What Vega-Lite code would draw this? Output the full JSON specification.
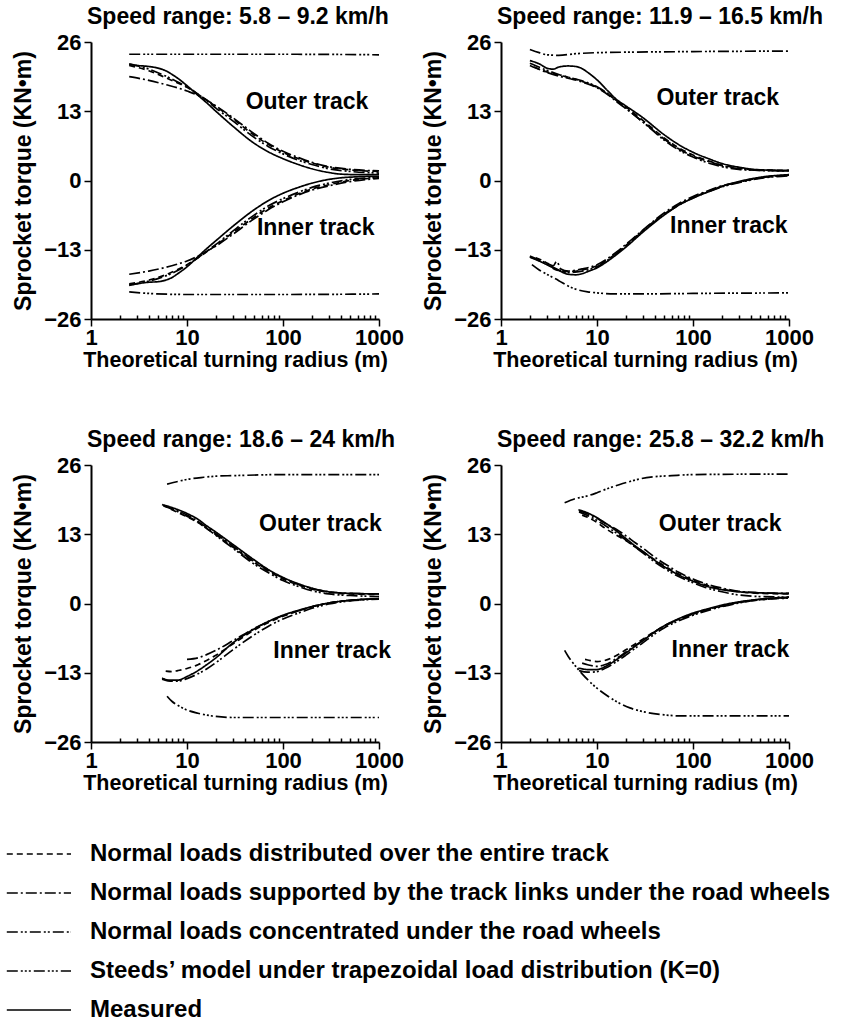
{
"$schema":"https://vega.github.io/schema/vega-lite/v6.json",
"padding":{"left":12,"top":6,"right":2,"bottom":2},
"config":{
 "font":"Liberation Sans",
 "view":{"stroke":null},
 "axis":{"grid":false,"labelFont":"Liberation Sans","titleFont":"Liberation Sans","labelFontWeight":"bold","titleFontWeight":"bold","labelColor":"black","titleColor":"black","domainColor":"black","tickColor":"black","domainWidth":2,"tickWidth":1.5,"labelFlush":false,"labelOverlap":false},
 "axisX":{"labelFontSize":22,"titleFontSize":21.5,"labelPadding":1,"titlePadding":1},
 "axisY":{"labelFontSize":22,"titleFontSize":23,"labelPadding":3,"titlePadding":8},
 "legend":{"orient":"bottom","direction":"vertical","columns":1,"symbolType":"M-8.1,0H-2.75","symbolSize":576,"symbolStrokeWidth":1.7,"symbolStrokeColor":"black","labelFont":"Liberation Sans","labelFontSize":24,"labelFontWeight":"bold","labelColor":"black","labelOffset":-27,"labelLimit":900,"rowPadding":14,"offset":47}
},
"columns":2,
"spacing":{"column":18,"row":58},
"resolve":{"scale":{"strokeDash":"shared"}},
"datasets":{
"labels":[
 {"p":1,"lab":"Outer track","x":178,"y":14.7},{"p":1,"lab":"Inner track","x":219,"y":-8.9},
 {"p":2,"lab":"Outer track","x":181,"y":15.5},{"p":2,"lab":"Inner track","x":236,"y":-8.5},
 {"p":3,"lab":"Outer track","x":245,"y":15},{"p":3,"lab":"Inner track","x":325,"y":-8.9},
 {"p":4,"lab":"Outer track","x":192,"y":15},{"p":4,"lab":"Inner track","x":245,"y":-8.7}
],
"curves":[
{"p":1,"t":"O","m":"E","x":2.5,"y":21.8},{"p":1,"t":"O","m":"E","x":3,"y":21.6},{"p":1,"t":"O","m":"E","x":4,"y":21.4},{"p":1,"t":"O","m":"E","x":5,"y":21.1},{"p":1,"t":"O","m":"E","x":6,"y":20.6},{"p":1,"t":"O","m":"E","x":7,"y":19.9},{"p":1,"t":"O","m":"E","x":8,"y":19.2},{"p":1,"t":"O","m":"E","x":10,"y":17.8},{"p":1,"t":"O","m":"E","x":13,"y":16},{"p":1,"t":"O","m":"E","x":16,"y":14.6},{"p":1,"t":"O","m":"E","x":20,"y":13},{"p":1,"t":"O","m":"E","x":30,"y":10.2},{"p":1,"t":"O","m":"E","x":50,"y":7},{"p":1,"t":"O","m":"E","x":70,"y":5.4},{"p":1,"t":"O","m":"E","x":100,"y":4.1},{"p":1,"t":"O","m":"E","x":150,"y":2.9},{"p":1,"t":"O","m":"E","x":200,"y":2.2},{"p":1,"t":"O","m":"E","x":300,"y":1.5},{"p":1,"t":"O","m":"E","x":400,"y":1.2},{"p":1,"t":"O","m":"E","x":600,"y":1.1},{"p":1,"t":"O","m":"E","x":1000,"y":1.1},
{"p":1,"t":"O","m":"A","x":2.5,"y":21.6},{"p":1,"t":"O","m":"A","x":4,"y":20.6},{"p":1,"t":"O","m":"A","x":6,"y":19.3},{"p":1,"t":"O","m":"A","x":8,"y":18.3},{"p":1,"t":"O","m":"A","x":10,"y":17.5},{"p":1,"t":"O","m":"A","x":13,"y":16.2},{"p":1,"t":"O","m":"A","x":16,"y":15.1},{"p":1,"t":"O","m":"A","x":20,"y":13.9},{"p":1,"t":"O","m":"A","x":30,"y":11.6},{"p":1,"t":"O","m":"A","x":50,"y":8.5},{"p":1,"t":"O","m":"A","x":70,"y":6.8},{"p":1,"t":"O","m":"A","x":100,"y":5.3},{"p":1,"t":"O","m":"A","x":150,"y":4},{"p":1,"t":"O","m":"A","x":200,"y":3.3},{"p":1,"t":"O","m":"A","x":300,"y":2.5},{"p":1,"t":"O","m":"A","x":500,"y":2},{"p":1,"t":"O","m":"A","x":1000,"y":1.7},
{"p":1,"t":"O","m":"B","x":2.5,"y":19.5},{"p":1,"t":"O","m":"B","x":4,"y":18.8},{"p":1,"t":"O","m":"B","x":6,"y":18},{"p":1,"t":"O","m":"B","x":8,"y":17.4},{"p":1,"t":"O","m":"B","x":10,"y":16.8},{"p":1,"t":"O","m":"B","x":13,"y":16},{"p":1,"t":"O","m":"B","x":16,"y":15.1},{"p":1,"t":"O","m":"B","x":20,"y":14},{"p":1,"t":"O","m":"B","x":30,"y":11.8},{"p":1,"t":"O","m":"B","x":50,"y":8.8},{"p":1,"t":"O","m":"B","x":70,"y":7},{"p":1,"t":"O","m":"B","x":100,"y":5.5},{"p":1,"t":"O","m":"B","x":150,"y":4.2},{"p":1,"t":"O","m":"B","x":200,"y":3.4},{"p":1,"t":"O","m":"B","x":300,"y":2.6},{"p":1,"t":"O","m":"B","x":500,"y":2.1},{"p":1,"t":"O","m":"B","x":1000,"y":1.8},
{"p":1,"t":"O","m":"C","x":2.5,"y":21.9},{"p":1,"t":"O","m":"C","x":4,"y":20.9},{"p":1,"t":"O","m":"C","x":6,"y":19.6},{"p":1,"t":"O","m":"C","x":8,"y":18.5},{"p":1,"t":"O","m":"C","x":10,"y":17.6},{"p":1,"t":"O","m":"C","x":13,"y":16.2},{"p":1,"t":"O","m":"C","x":16,"y":15},{"p":1,"t":"O","m":"C","x":20,"y":13.6},{"p":1,"t":"O","m":"C","x":30,"y":11.2},{"p":1,"t":"O","m":"C","x":50,"y":8.1},{"p":1,"t":"O","m":"C","x":70,"y":6.4},{"p":1,"t":"O","m":"C","x":100,"y":5},{"p":1,"t":"O","m":"C","x":150,"y":3.7},{"p":1,"t":"O","m":"C","x":200,"y":3},{"p":1,"t":"O","m":"C","x":300,"y":2.2},{"p":1,"t":"O","m":"C","x":500,"y":1.7},{"p":1,"t":"O","m":"C","x":1000,"y":1.4},
{"p":1,"t":"O","m":"D","x":2.5,"y":23.7},{"p":1,"t":"O","m":"D","x":10,"y":23.7},{"p":1,"t":"O","m":"D","x":100,"y":23.7},{"p":1,"t":"O","m":"D","x":1000,"y":23.6},
{"p":1,"t":"I","m":"E","x":2.5,"y":-19.7},{"p":1,"t":"I","m":"E","x":3,"y":-19.4},{"p":1,"t":"I","m":"E","x":4,"y":-19.1},{"p":1,"t":"I","m":"E","x":5,"y":-19},{"p":1,"t":"I","m":"E","x":6,"y":-18.7},{"p":1,"t":"I","m":"E","x":7,"y":-18.2},{"p":1,"t":"I","m":"E","x":8,"y":-17.5},{"p":1,"t":"I","m":"E","x":10,"y":-16.2},{"p":1,"t":"I","m":"E","x":13,"y":-14.3},{"p":1,"t":"I","m":"E","x":16,"y":-12.8},{"p":1,"t":"I","m":"E","x":20,"y":-11.3},{"p":1,"t":"I","m":"E","x":30,"y":-8.6},{"p":1,"t":"I","m":"E","x":50,"y":-5.5},{"p":1,"t":"I","m":"E","x":70,"y":-3.8},{"p":1,"t":"I","m":"E","x":100,"y":-2.4},{"p":1,"t":"I","m":"E","x":150,"y":-1.2},{"p":1,"t":"I","m":"E","x":200,"y":-0.5},{"p":1,"t":"I","m":"E","x":300,"y":0.2},{"p":1,"t":"I","m":"E","x":400,"y":0.5},{"p":1,"t":"I","m":"E","x":600,"y":0.7},{"p":1,"t":"I","m":"E","x":1000,"y":0.8},
{"p":1,"t":"I","m":"A","x":2.5,"y":-19.4},{"p":1,"t":"I","m":"A","x":4,"y":-18.7},{"p":1,"t":"I","m":"A","x":6,"y":-17.7},{"p":1,"t":"I","m":"A","x":8,"y":-16.7},{"p":1,"t":"I","m":"A","x":10,"y":-15.8},{"p":1,"t":"I","m":"A","x":13,"y":-14.5},{"p":1,"t":"I","m":"A","x":16,"y":-13.4},{"p":1,"t":"I","m":"A","x":20,"y":-12.2},{"p":1,"t":"I","m":"A","x":30,"y":-9.8},{"p":1,"t":"I","m":"A","x":50,"y":-6.9},{"p":1,"t":"I","m":"A","x":70,"y":-5.2},{"p":1,"t":"I","m":"A","x":100,"y":-3.8},{"p":1,"t":"I","m":"A","x":150,"y":-2.4},{"p":1,"t":"I","m":"A","x":200,"y":-1.6},{"p":1,"t":"I","m":"A","x":300,"y":-0.8},{"p":1,"t":"I","m":"A","x":500,"y":0},{"p":1,"t":"I","m":"A","x":1000,"y":0.5},
{"p":1,"t":"I","m":"B","x":2.5,"y":-17.6},{"p":1,"t":"I","m":"B","x":4,"y":-17},{"p":1,"t":"I","m":"B","x":6,"y":-16.3},{"p":1,"t":"I","m":"B","x":8,"y":-15.7},{"p":1,"t":"I","m":"B","x":10,"y":-15.1},{"p":1,"t":"I","m":"B","x":13,"y":-14.2},{"p":1,"t":"I","m":"B","x":16,"y":-13.3},{"p":1,"t":"I","m":"B","x":20,"y":-12.3},{"p":1,"t":"I","m":"B","x":30,"y":-10.1},{"p":1,"t":"I","m":"B","x":50,"y":-7.2},{"p":1,"t":"I","m":"B","x":70,"y":-5.5},{"p":1,"t":"I","m":"B","x":100,"y":-4},{"p":1,"t":"I","m":"B","x":150,"y":-2.6},{"p":1,"t":"I","m":"B","x":200,"y":-1.8},{"p":1,"t":"I","m":"B","x":300,"y":-1},{"p":1,"t":"I","m":"B","x":500,"y":-0.2},{"p":1,"t":"I","m":"B","x":1000,"y":0.4},
{"p":1,"t":"I","m":"C","x":2.5,"y":-19.6},{"p":1,"t":"I","m":"C","x":4,"y":-18.9},{"p":1,"t":"I","m":"C","x":6,"y":-17.9},{"p":1,"t":"I","m":"C","x":8,"y":-16.9},{"p":1,"t":"I","m":"C","x":10,"y":-15.9},{"p":1,"t":"I","m":"C","x":13,"y":-14.5},{"p":1,"t":"I","m":"C","x":16,"y":-13.3},{"p":1,"t":"I","m":"C","x":20,"y":-12},{"p":1,"t":"I","m":"C","x":30,"y":-9.5},{"p":1,"t":"I","m":"C","x":50,"y":-6.5},{"p":1,"t":"I","m":"C","x":70,"y":-4.8},{"p":1,"t":"I","m":"C","x":100,"y":-3.4},{"p":1,"t":"I","m":"C","x":150,"y":-2.1},{"p":1,"t":"I","m":"C","x":200,"y":-1.3},{"p":1,"t":"I","m":"C","x":300,"y":-0.5},{"p":1,"t":"I","m":"C","x":500,"y":0.2},{"p":1,"t":"I","m":"C","x":1000,"y":0.6},
{"p":1,"t":"I","m":"D","x":2.5,"y":-20.9},{"p":1,"t":"I","m":"D","x":4,"y":-21.2},{"p":1,"t":"I","m":"D","x":10,"y":-21.4},{"p":1,"t":"I","m":"D","x":100,"y":-21.4},{"p":1,"t":"I","m":"D","x":1000,"y":-21.3},

{"p":2,"t":"O","m":"E","x":2,"y":22.5},{"p":2,"t":"O","m":"E","x":2.5,"y":21.9},{"p":2,"t":"O","m":"E","x":3,"y":21.1},{"p":2,"t":"O","m":"E","x":3.5,"y":20.9},{"p":2,"t":"O","m":"E","x":4,"y":21.3},{"p":2,"t":"O","m":"E","x":5,"y":21.5},{"p":2,"t":"O","m":"E","x":6,"y":21.4},{"p":2,"t":"O","m":"E","x":7,"y":21},{"p":2,"t":"O","m":"E","x":8,"y":20.3},{"p":2,"t":"O","m":"E","x":10,"y":18.9},{"p":2,"t":"O","m":"E","x":13,"y":16.8},{"p":2,"t":"O","m":"E","x":16,"y":15.2},{"p":2,"t":"O","m":"E","x":20,"y":14},{"p":2,"t":"O","m":"E","x":30,"y":11.8},{"p":2,"t":"O","m":"E","x":50,"y":8.6},{"p":2,"t":"O","m":"E","x":70,"y":6.8},{"p":2,"t":"O","m":"E","x":100,"y":5.3},{"p":2,"t":"O","m":"E","x":150,"y":4},{"p":2,"t":"O","m":"E","x":200,"y":3.2},{"p":2,"t":"O","m":"E","x":300,"y":2.5},{"p":2,"t":"O","m":"E","x":500,"y":2},{"p":2,"t":"O","m":"E","x":1000,"y":1.9},
{"p":2,"t":"O","m":"A","x":2.2,"y":21.3},{"p":2,"t":"O","m":"A","x":3,"y":20.4},{"p":2,"t":"O","m":"A","x":4,"y":19.8},{"p":2,"t":"O","m":"A","x":5,"y":19.4},{"p":2,"t":"O","m":"A","x":7,"y":18.6},{"p":2,"t":"O","m":"A","x":10,"y":17.5},{"p":2,"t":"O","m":"A","x":13,"y":16.2},{"p":2,"t":"O","m":"A","x":16,"y":15},{"p":2,"t":"O","m":"A","x":20,"y":13.8},{"p":2,"t":"O","m":"A","x":30,"y":11.3},{"p":2,"t":"O","m":"A","x":50,"y":8},{"p":2,"t":"O","m":"A","x":70,"y":6.2},{"p":2,"t":"O","m":"A","x":100,"y":4.8},{"p":2,"t":"O","m":"A","x":150,"y":3.6},{"p":2,"t":"O","m":"A","x":200,"y":2.9},{"p":2,"t":"O","m":"A","x":300,"y":2.3},{"p":2,"t":"O","m":"A","x":500,"y":2},{"p":2,"t":"O","m":"A","x":1000,"y":1.9},
{"p":2,"t":"O","m":"B","x":2,"y":21.6},{"p":2,"t":"O","m":"B","x":3,"y":20.3},{"p":2,"t":"O","m":"B","x":4,"y":19.6},{"p":2,"t":"O","m":"B","x":5,"y":19.2},{"p":2,"t":"O","m":"B","x":7,"y":18.5},{"p":2,"t":"O","m":"B","x":10,"y":17.4},{"p":2,"t":"O","m":"B","x":13,"y":16.1},{"p":2,"t":"O","m":"B","x":16,"y":14.8},{"p":2,"t":"O","m":"B","x":20,"y":13.5},{"p":2,"t":"O","m":"B","x":30,"y":11},{"p":2,"t":"O","m":"B","x":50,"y":7.8},{"p":2,"t":"O","m":"B","x":70,"y":6},{"p":2,"t":"O","m":"B","x":100,"y":4.6},{"p":2,"t":"O","m":"B","x":150,"y":3.5},{"p":2,"t":"O","m":"B","x":200,"y":2.8},{"p":2,"t":"O","m":"B","x":300,"y":2.2},{"p":2,"t":"O","m":"B","x":500,"y":1.9},{"p":2,"t":"O","m":"B","x":1000,"y":1.8},
{"p":2,"t":"O","m":"C","x":2,"y":22},{"p":2,"t":"O","m":"C","x":3,"y":20.7},{"p":2,"t":"O","m":"C","x":4,"y":19.9},{"p":2,"t":"O","m":"C","x":5,"y":19.4},{"p":2,"t":"O","m":"C","x":7,"y":18.7},{"p":2,"t":"O","m":"C","x":10,"y":17.6},{"p":2,"t":"O","m":"C","x":13,"y":16.3},{"p":2,"t":"O","m":"C","x":16,"y":15},{"p":2,"t":"O","m":"C","x":20,"y":13.6},{"p":2,"t":"O","m":"C","x":30,"y":11},{"p":2,"t":"O","m":"C","x":50,"y":7.6},{"p":2,"t":"O","m":"C","x":70,"y":5.8},{"p":2,"t":"O","m":"C","x":100,"y":4.4},{"p":2,"t":"O","m":"C","x":150,"y":3.2},{"p":2,"t":"O","m":"C","x":200,"y":2.6},{"p":2,"t":"O","m":"C","x":300,"y":2.1},{"p":2,"t":"O","m":"C","x":500,"y":1.9},{"p":2,"t":"O","m":"C","x":1000,"y":1.8},
{"p":2,"t":"O","m":"D","x":2,"y":24.6},{"p":2,"t":"O","m":"D","x":2.5,"y":24},{"p":2,"t":"O","m":"D","x":3,"y":23.6},{"p":2,"t":"O","m":"D","x":4,"y":23.5},{"p":2,"t":"O","m":"D","x":6,"y":23.8},{"p":2,"t":"O","m":"D","x":10,"y":24},{"p":2,"t":"O","m":"D","x":100,"y":24.2},{"p":2,"t":"O","m":"D","x":1000,"y":24.3},
{"p":2,"t":"I","m":"E","x":2,"y":-14.3},{"p":2,"t":"I","m":"E","x":2.5,"y":-15.1},{"p":2,"t":"I","m":"E","x":3,"y":-15.8},{"p":2,"t":"I","m":"E","x":4,"y":-16.9},{"p":2,"t":"I","m":"E","x":5,"y":-17.6},{"p":2,"t":"I","m":"E","x":6,"y":-17.7},{"p":2,"t":"I","m":"E","x":7,"y":-17.5},{"p":2,"t":"I","m":"E","x":8,"y":-17.1},{"p":2,"t":"I","m":"E","x":10,"y":-16.4},{"p":2,"t":"I","m":"E","x":13,"y":-15.1},{"p":2,"t":"I","m":"E","x":16,"y":-13.9},{"p":2,"t":"I","m":"E","x":20,"y":-12.5},{"p":2,"t":"I","m":"E","x":30,"y":-9.7},{"p":2,"t":"I","m":"E","x":50,"y":-6.5},{"p":2,"t":"I","m":"E","x":70,"y":-4.7},{"p":2,"t":"I","m":"E","x":100,"y":-3.3},{"p":2,"t":"I","m":"E","x":150,"y":-2},{"p":2,"t":"I","m":"E","x":200,"y":-1.1},{"p":2,"t":"I","m":"E","x":300,"y":-0.2},{"p":2,"t":"I","m":"E","x":500,"y":0.6},{"p":2,"t":"I","m":"E","x":1000,"y":1.1},
{"p":2,"t":"I","m":"A","x":2.3,"y":-14.5},{"p":2,"t":"I","m":"A","x":3,"y":-15.5},{"p":2,"t":"I","m":"A","x":3.5,"y":-16.5},{"p":2,"t":"I","m":"A","x":4,"y":-16.9},{"p":2,"t":"I","m":"A","x":5,"y":-17.1},{"p":2,"t":"I","m":"A","x":7,"y":-16.8},{"p":2,"t":"I","m":"A","x":10,"y":-16},{"p":2,"t":"I","m":"A","x":13,"y":-14.8},{"p":2,"t":"I","m":"A","x":16,"y":-13.6},{"p":2,"t":"I","m":"A","x":20,"y":-12.2},{"p":2,"t":"I","m":"A","x":30,"y":-9.4},{"p":2,"t":"I","m":"A","x":50,"y":-6.3},{"p":2,"t":"I","m":"A","x":70,"y":-4.6},{"p":2,"t":"I","m":"A","x":100,"y":-3.2},{"p":2,"t":"I","m":"A","x":150,"y":-1.9},{"p":2,"t":"I","m":"A","x":200,"y":-1.1},{"p":2,"t":"I","m":"A","x":300,"y":-0.3},{"p":2,"t":"I","m":"A","x":500,"y":0.5},{"p":2,"t":"I","m":"A","x":1000,"y":1},
{"p":2,"t":"I","m":"B","x":2,"y":-14.2},{"p":2,"t":"I","m":"B","x":3,"y":-15.5},{"p":2,"t":"I","m":"B","x":3.5,"y":-16},{"p":2,"t":"I","m":"B","x":3.8,"y":-15.2},{"p":2,"t":"I","m":"B","x":4.2,"y":-16.6},{"p":2,"t":"I","m":"B","x":5,"y":-17},{"p":2,"t":"I","m":"B","x":7,"y":-16.6},{"p":2,"t":"I","m":"B","x":10,"y":-15.8},{"p":2,"t":"I","m":"B","x":13,"y":-14.6},{"p":2,"t":"I","m":"B","x":16,"y":-13.4},{"p":2,"t":"I","m":"B","x":20,"y":-12},{"p":2,"t":"I","m":"B","x":30,"y":-9.3},{"p":2,"t":"I","m":"B","x":50,"y":-6.1},{"p":2,"t":"I","m":"B","x":70,"y":-4.4},{"p":2,"t":"I","m":"B","x":100,"y":-3},{"p":2,"t":"I","m":"B","x":150,"y":-1.8},{"p":2,"t":"I","m":"B","x":200,"y":-1},{"p":2,"t":"I","m":"B","x":300,"y":-0.3},{"p":2,"t":"I","m":"B","x":500,"y":0.5},{"p":2,"t":"I","m":"B","x":1000,"y":1},
{"p":2,"t":"I","m":"C","x":2,"y":-14.4},{"p":2,"t":"I","m":"C","x":3,"y":-15.7},{"p":2,"t":"I","m":"C","x":4,"y":-16.8},{"p":2,"t":"I","m":"C","x":5,"y":-17.3},{"p":2,"t":"I","m":"C","x":7,"y":-17},{"p":2,"t":"I","m":"C","x":10,"y":-16.2},{"p":2,"t":"I","m":"C","x":13,"y":-14.9},{"p":2,"t":"I","m":"C","x":16,"y":-13.7},{"p":2,"t":"I","m":"C","x":20,"y":-12.3},{"p":2,"t":"I","m":"C","x":30,"y":-9.5},{"p":2,"t":"I","m":"C","x":50,"y":-6.4},{"p":2,"t":"I","m":"C","x":70,"y":-4.7},{"p":2,"t":"I","m":"C","x":100,"y":-3.3},{"p":2,"t":"I","m":"C","x":150,"y":-2},{"p":2,"t":"I","m":"C","x":200,"y":-1.2},{"p":2,"t":"I","m":"C","x":300,"y":-0.4},{"p":2,"t":"I","m":"C","x":500,"y":0.4},{"p":2,"t":"I","m":"C","x":1000,"y":0.9},
{"p":2,"t":"I","m":"D","x":2.1,"y":-15.8},{"p":2,"t":"I","m":"D","x":2.5,"y":-16.8},{"p":2,"t":"I","m":"D","x":3,"y":-17.6},{"p":2,"t":"I","m":"D","x":4,"y":-18.8},{"p":2,"t":"I","m":"D","x":5,"y":-19.8},{"p":2,"t":"I","m":"D","x":6,"y":-20.4},{"p":2,"t":"I","m":"D","x":8,"y":-20.9},{"p":2,"t":"I","m":"D","x":10,"y":-21.1},{"p":2,"t":"I","m":"D","x":15,"y":-21.3},{"p":2,"t":"I","m":"D","x":30,"y":-21.3},{"p":2,"t":"I","m":"D","x":100,"y":-21.2},{"p":2,"t":"I","m":"D","x":1000,"y":-21.1},

{"p":3,"t":"O","m":"E","x":5.7,"y":18.5},{"p":3,"t":"O","m":"E","x":7,"y":18},{"p":3,"t":"O","m":"E","x":10,"y":16.9},{"p":3,"t":"O","m":"E","x":13,"y":15.8},{"p":3,"t":"O","m":"E","x":16,"y":14.6},{"p":3,"t":"O","m":"E","x":20,"y":13.4},{"p":3,"t":"O","m":"E","x":30,"y":11.1},{"p":3,"t":"O","m":"E","x":50,"y":8.2},{"p":3,"t":"O","m":"E","x":70,"y":6.4},{"p":3,"t":"O","m":"E","x":100,"y":4.9},{"p":3,"t":"O","m":"E","x":150,"y":3.6},{"p":3,"t":"O","m":"E","x":200,"y":2.9},{"p":3,"t":"O","m":"E","x":300,"y":2.2},{"p":3,"t":"O","m":"E","x":500,"y":1.9},{"p":3,"t":"O","m":"E","x":1000,"y":1.8},
{"p":3,"t":"O","m":"A","x":5.5,"y":18.6},{"p":3,"t":"O","m":"A","x":7,"y":17.6},{"p":3,"t":"O","m":"A","x":10,"y":16.3},{"p":3,"t":"O","m":"A","x":13,"y":15.2},{"p":3,"t":"O","m":"A","x":16,"y":14.1},{"p":3,"t":"O","m":"A","x":20,"y":12.9},{"p":3,"t":"O","m":"A","x":30,"y":10.6},{"p":3,"t":"O","m":"A","x":50,"y":7.7},{"p":3,"t":"O","m":"A","x":70,"y":6.1},{"p":3,"t":"O","m":"A","x":100,"y":4.6},{"p":3,"t":"O","m":"A","x":150,"y":3.4},{"p":3,"t":"O","m":"A","x":200,"y":2.7},{"p":3,"t":"O","m":"A","x":300,"y":2.1},{"p":3,"t":"O","m":"A","x":500,"y":1.8},{"p":3,"t":"O","m":"A","x":1000,"y":1.7},
{"p":3,"t":"O","m":"B","x":5.7,"y":18.4},{"p":3,"t":"O","m":"B","x":7,"y":17.8},{"p":3,"t":"O","m":"B","x":10,"y":16.6},{"p":3,"t":"O","m":"B","x":13,"y":15.4},{"p":3,"t":"O","m":"B","x":16,"y":14.3},{"p":3,"t":"O","m":"B","x":20,"y":13.1},{"p":3,"t":"O","m":"B","x":30,"y":10.8},{"p":3,"t":"O","m":"B","x":50,"y":7.9},{"p":3,"t":"O","m":"B","x":70,"y":6.3},{"p":3,"t":"O","m":"B","x":100,"y":4.8},{"p":3,"t":"O","m":"B","x":150,"y":3.5},{"p":3,"t":"O","m":"B","x":200,"y":2.8},{"p":3,"t":"O","m":"B","x":300,"y":2.2},{"p":3,"t":"O","m":"B","x":500,"y":1.9},{"p":3,"t":"O","m":"B","x":1000,"y":1.8},
{"p":3,"t":"O","m":"C","x":5.7,"y":18.3},{"p":3,"t":"O","m":"C","x":7,"y":17.7},{"p":3,"t":"O","m":"C","x":10,"y":16.4},{"p":3,"t":"O","m":"C","x":13,"y":15.3},{"p":3,"t":"O","m":"C","x":16,"y":14.1},{"p":3,"t":"O","m":"C","x":20,"y":12.8},{"p":3,"t":"O","m":"C","x":30,"y":10.4},{"p":3,"t":"O","m":"C","x":50,"y":7.4},{"p":3,"t":"O","m":"C","x":70,"y":5.8},{"p":3,"t":"O","m":"C","x":100,"y":4.3},{"p":3,"t":"O","m":"C","x":150,"y":3.1},{"p":3,"t":"O","m":"C","x":200,"y":2.4},{"p":3,"t":"O","m":"C","x":300,"y":1.8},{"p":3,"t":"O","m":"C","x":500,"y":1.5},{"p":3,"t":"O","m":"C","x":1000,"y":1.3},
{"p":3,"t":"O","m":"D","x":6.2,"y":22.4},{"p":3,"t":"O","m":"D","x":8,"y":22.9},{"p":3,"t":"O","m":"D","x":10,"y":23.3},{"p":3,"t":"O","m":"D","x":15,"y":23.7},{"p":3,"t":"O","m":"D","x":20,"y":23.9},{"p":3,"t":"O","m":"D","x":30,"y":24},{"p":3,"t":"O","m":"D","x":100,"y":24.2},{"p":3,"t":"O","m":"D","x":1000,"y":24.2},
{"p":3,"t":"I","m":"E","x":5.5,"y":-14},{"p":3,"t":"I","m":"E","x":6.5,"y":-14.4},{"p":3,"t":"I","m":"E","x":8,"y":-14.4},{"p":3,"t":"I","m":"E","x":10,"y":-13.7},{"p":3,"t":"I","m":"E","x":13,"y":-12.6},{"p":3,"t":"I","m":"E","x":16,"y":-11.5},{"p":3,"t":"I","m":"E","x":20,"y":-10.2},{"p":3,"t":"I","m":"E","x":30,"y":-7.4},{"p":3,"t":"I","m":"E","x":50,"y":-4.8},{"p":3,"t":"I","m":"E","x":70,"y":-3.4},{"p":3,"t":"I","m":"E","x":100,"y":-2.2},{"p":3,"t":"I","m":"E","x":150,"y":-1.2},{"p":3,"t":"I","m":"E","x":200,"y":-0.6},{"p":3,"t":"I","m":"E","x":300,"y":0.1},{"p":3,"t":"I","m":"E","x":500,"y":0.6},{"p":3,"t":"I","m":"E","x":1000,"y":0.9},
{"p":3,"t":"I","m":"A","x":6,"y":-12.7},{"p":3,"t":"I","m":"A","x":7,"y":-12.8},{"p":3,"t":"I","m":"A","x":8,"y":-12.6},{"p":3,"t":"I","m":"A","x":10,"y":-12.2},{"p":3,"t":"I","m":"A","x":13,"y":-11.5},{"p":3,"t":"I","m":"A","x":16,"y":-10.7},{"p":3,"t":"I","m":"A","x":20,"y":-9.7},{"p":3,"t":"I","m":"A","x":30,"y":-7.6},{"p":3,"t":"I","m":"A","x":50,"y":-5},{"p":3,"t":"I","m":"A","x":70,"y":-3.6},{"p":3,"t":"I","m":"A","x":100,"y":-2.4},{"p":3,"t":"I","m":"A","x":150,"y":-1.3},{"p":3,"t":"I","m":"A","x":200,"y":-0.6},{"p":3,"t":"I","m":"A","x":300,"y":0.1},{"p":3,"t":"I","m":"A","x":500,"y":0.6},{"p":3,"t":"I","m":"A","x":1000,"y":0.9},
{"p":3,"t":"I","m":"B","x":10,"y":-10.5},{"p":3,"t":"I","m":"B","x":13,"y":-10.2},{"p":3,"t":"I","m":"B","x":16,"y":-9.6},{"p":3,"t":"I","m":"B","x":20,"y":-8.8},{"p":3,"t":"I","m":"B","x":30,"y":-7},{"p":3,"t":"I","m":"B","x":50,"y":-4.7},{"p":3,"t":"I","m":"B","x":70,"y":-3.4},{"p":3,"t":"I","m":"B","x":100,"y":-2.3},{"p":3,"t":"I","m":"B","x":150,"y":-1.3},{"p":3,"t":"I","m":"B","x":200,"y":-0.6},{"p":3,"t":"I","m":"B","x":300,"y":0.1},{"p":3,"t":"I","m":"B","x":500,"y":0.6},{"p":3,"t":"I","m":"B","x":1000,"y":0.9},
{"p":3,"t":"I","m":"C","x":5.5,"y":-14.2},{"p":3,"t":"I","m":"C","x":7,"y":-14.6},{"p":3,"t":"I","m":"C","x":8,"y":-14.6},{"p":3,"t":"I","m":"C","x":10,"y":-14.1},{"p":3,"t":"I","m":"C","x":13,"y":-13.2},{"p":3,"t":"I","m":"C","x":16,"y":-12.3},{"p":3,"t":"I","m":"C","x":20,"y":-11.1},{"p":3,"t":"I","m":"C","x":30,"y":-8.7},{"p":3,"t":"I","m":"C","x":50,"y":-5.9},{"p":3,"t":"I","m":"C","x":70,"y":-4.3},{"p":3,"t":"I","m":"C","x":100,"y":-2.9},{"p":3,"t":"I","m":"C","x":150,"y":-1.7},{"p":3,"t":"I","m":"C","x":200,"y":-0.9},{"p":3,"t":"I","m":"C","x":300,"y":-0.1},{"p":3,"t":"I","m":"C","x":500,"y":0.5},{"p":3,"t":"I","m":"C","x":1000,"y":0.8},
{"p":3,"t":"I","m":"D","x":6.2,"y":-17.4},{"p":3,"t":"I","m":"D","x":7,"y":-18.4},{"p":3,"t":"I","m":"D","x":8,"y":-19.1},{"p":3,"t":"I","m":"D","x":10,"y":-20},{"p":3,"t":"I","m":"D","x":13,"y":-20.6},{"p":3,"t":"I","m":"D","x":20,"y":-21.2},{"p":3,"t":"I","m":"D","x":30,"y":-21.4},{"p":3,"t":"I","m":"D","x":100,"y":-21.4},{"p":3,"t":"I","m":"D","x":1000,"y":-21.4},

{"p":4,"t":"O","m":"E","x":6.4,"y":17.6},{"p":4,"t":"O","m":"E","x":8,"y":17},{"p":4,"t":"O","m":"E","x":10,"y":16.1},{"p":4,"t":"O","m":"E","x":12,"y":15.2},{"p":4,"t":"O","m":"E","x":16,"y":13.6},{"p":4,"t":"O","m":"E","x":20,"y":12.2},{"p":4,"t":"O","m":"E","x":25,"y":10.8},{"p":4,"t":"O","m":"E","x":30,"y":9.8},{"p":4,"t":"O","m":"E","x":40,"y":8.1},{"p":4,"t":"O","m":"E","x":57,"y":6.3},{"p":4,"t":"O","m":"E","x":70,"y":5.4},{"p":4,"t":"O","m":"E","x":100,"y":4.2},{"p":4,"t":"O","m":"E","x":130,"y":3.4},{"p":4,"t":"O","m":"E","x":200,"y":2.6},{"p":4,"t":"O","m":"E","x":300,"y":2.2},{"p":4,"t":"O","m":"E","x":500,"y":2},{"p":4,"t":"O","m":"E","x":1000,"y":1.9},
{"p":4,"t":"O","m":"A","x":7,"y":16.6},{"p":4,"t":"O","m":"A","x":8,"y":16.2},{"p":4,"t":"O","m":"A","x":10,"y":15.2},{"p":4,"t":"O","m":"A","x":12,"y":14.2},{"p":4,"t":"O","m":"A","x":16,"y":12.8},{"p":4,"t":"O","m":"A","x":20,"y":11.8},{"p":4,"t":"O","m":"A","x":25,"y":10.6},{"p":4,"t":"O","m":"A","x":30,"y":9.7},{"p":4,"t":"O","m":"A","x":40,"y":8.2},{"p":4,"t":"O","m":"A","x":57,"y":6.5},{"p":4,"t":"O","m":"A","x":70,"y":5.6},{"p":4,"t":"O","m":"A","x":100,"y":4.4},{"p":4,"t":"O","m":"A","x":130,"y":3.6},{"p":4,"t":"O","m":"A","x":200,"y":2.7},{"p":4,"t":"O","m":"A","x":300,"y":2.2},{"p":4,"t":"O","m":"A","x":500,"y":1.9},{"p":4,"t":"O","m":"A","x":1000,"y":1.8},
{"p":4,"t":"O","m":"B","x":6.5,"y":17.4},{"p":4,"t":"O","m":"B","x":8,"y":16.8},{"p":4,"t":"O","m":"B","x":10,"y":16},{"p":4,"t":"O","m":"B","x":12,"y":15.1},{"p":4,"t":"O","m":"B","x":16,"y":13.9},{"p":4,"t":"O","m":"B","x":20,"y":12.7},{"p":4,"t":"O","m":"B","x":25,"y":11.4},{"p":4,"t":"O","m":"B","x":30,"y":10.4},{"p":4,"t":"O","m":"B","x":40,"y":8.7},{"p":4,"t":"O","m":"B","x":57,"y":6.9},{"p":4,"t":"O","m":"B","x":70,"y":5.9},{"p":4,"t":"O","m":"B","x":100,"y":4.6},{"p":4,"t":"O","m":"B","x":130,"y":3.8},{"p":4,"t":"O","m":"B","x":200,"y":2.9},{"p":4,"t":"O","m":"B","x":300,"y":2.3},{"p":4,"t":"O","m":"B","x":500,"y":2},{"p":4,"t":"O","m":"B","x":1000,"y":1.9},
{"p":4,"t":"O","m":"C","x":6.5,"y":17.2},{"p":4,"t":"O","m":"C","x":8,"y":16.5},{"p":4,"t":"O","m":"C","x":10,"y":15.6},{"p":4,"t":"O","m":"C","x":12,"y":14.7},{"p":4,"t":"O","m":"C","x":16,"y":13.2},{"p":4,"t":"O","m":"C","x":20,"y":11.9},{"p":4,"t":"O","m":"C","x":25,"y":10.6},{"p":4,"t":"O","m":"C","x":30,"y":9.5},{"p":4,"t":"O","m":"C","x":40,"y":7.8},{"p":4,"t":"O","m":"C","x":57,"y":6},{"p":4,"t":"O","m":"C","x":70,"y":5.1},{"p":4,"t":"O","m":"C","x":100,"y":3.9},{"p":4,"t":"O","m":"C","x":130,"y":3.1},{"p":4,"t":"O","m":"C","x":200,"y":2.2},{"p":4,"t":"O","m":"C","x":300,"y":1.6},{"p":4,"t":"O","m":"C","x":500,"y":1.3},{"p":4,"t":"O","m":"C","x":1000,"y":1.2},
{"p":4,"t":"O","m":"D","x":4.6,"y":18.9},{"p":4,"t":"O","m":"D","x":6,"y":19.7},{"p":4,"t":"O","m":"D","x":8,"y":20.2},{"p":4,"t":"O","m":"D","x":10,"y":20.8},{"p":4,"t":"O","m":"D","x":13,"y":21.6},{"p":4,"t":"O","m":"D","x":17,"y":22.3},{"p":4,"t":"O","m":"D","x":22,"y":22.9},{"p":4,"t":"O","m":"D","x":28,"y":23.4},{"p":4,"t":"O","m":"D","x":40,"y":23.8},{"p":4,"t":"O","m":"D","x":60,"y":24},{"p":4,"t":"O","m":"D","x":100,"y":24.2},{"p":4,"t":"O","m":"D","x":1000,"y":24.3},
{"p":4,"t":"I","m":"E","x":6.4,"y":-12.1},{"p":4,"t":"I","m":"E","x":8,"y":-12.4},{"p":4,"t":"I","m":"E","x":10,"y":-12.4},{"p":4,"t":"I","m":"E","x":12,"y":-11.9},{"p":4,"t":"I","m":"E","x":17,"y":-10.2},{"p":4,"t":"I","m":"E","x":20,"y":-9.3},{"p":4,"t":"I","m":"E","x":25,"y":-8},{"p":4,"t":"I","m":"E","x":30,"y":-7},{"p":4,"t":"I","m":"E","x":38,"y":-5.6},{"p":4,"t":"I","m":"E","x":50,"y":-4.2},{"p":4,"t":"I","m":"E","x":70,"y":-2.9},{"p":4,"t":"I","m":"E","x":100,"y":-1.8},{"p":4,"t":"I","m":"E","x":150,"y":-0.9},{"p":4,"t":"I","m":"E","x":190,"y":-0.4},{"p":4,"t":"I","m":"E","x":300,"y":0.3},{"p":4,"t":"I","m":"E","x":500,"y":0.8},{"p":4,"t":"I","m":"E","x":1000,"y":1.2},
{"p":4,"t":"I","m":"A","x":7.5,"y":-10.5},{"p":4,"t":"I","m":"A","x":8,"y":-10.6},{"p":4,"t":"I","m":"A","x":10,"y":-10.9},{"p":4,"t":"I","m":"A","x":12,"y":-10.7},{"p":4,"t":"I","m":"A","x":17,"y":-9.5},{"p":4,"t":"I","m":"A","x":20,"y":-8.7},{"p":4,"t":"I","m":"A","x":25,"y":-7.6},{"p":4,"t":"I","m":"A","x":30,"y":-6.7},{"p":4,"t":"I","m":"A","x":38,"y":-5.5},{"p":4,"t":"I","m":"A","x":50,"y":-4.2},{"p":4,"t":"I","m":"A","x":70,"y":-3},{"p":4,"t":"I","m":"A","x":100,"y":-2},{"p":4,"t":"I","m":"A","x":150,"y":-1},{"p":4,"t":"I","m":"A","x":200,"y":-0.5},{"p":4,"t":"I","m":"A","x":300,"y":0.2},{"p":4,"t":"I","m":"A","x":500,"y":0.7},{"p":4,"t":"I","m":"A","x":1000,"y":1.1},
{"p":4,"t":"I","m":"B","x":7,"y":-11.2},{"p":4,"t":"I","m":"B","x":8,"y":-11.5},{"p":4,"t":"I","m":"B","x":10,"y":-11.8},{"p":4,"t":"I","m":"B","x":12,"y":-11.5},{"p":4,"t":"I","m":"B","x":17,"y":-10},{"p":4,"t":"I","m":"B","x":20,"y":-9.1},{"p":4,"t":"I","m":"B","x":25,"y":-7.9},{"p":4,"t":"I","m":"B","x":30,"y":-6.9},{"p":4,"t":"I","m":"B","x":38,"y":-5.6},{"p":4,"t":"I","m":"B","x":50,"y":-4.3},{"p":4,"t":"I","m":"B","x":70,"y":-3},{"p":4,"t":"I","m":"B","x":100,"y":-2},{"p":4,"t":"I","m":"B","x":150,"y":-1},{"p":4,"t":"I","m":"B","x":200,"y":-0.5},{"p":4,"t":"I","m":"B","x":300,"y":0.2},{"p":4,"t":"I","m":"B","x":500,"y":0.8},{"p":4,"t":"I","m":"B","x":1000,"y":1.1},
{"p":4,"t":"I","m":"C","x":6.5,"y":-12.6},{"p":4,"t":"I","m":"C","x":8,"y":-12.9},{"p":4,"t":"I","m":"C","x":10,"y":-12.8},{"p":4,"t":"I","m":"C","x":12,"y":-12.2},{"p":4,"t":"I","m":"C","x":17,"y":-10.6},{"p":4,"t":"I","m":"C","x":20,"y":-9.7},{"p":4,"t":"I","m":"C","x":25,"y":-8.4},{"p":4,"t":"I","m":"C","x":30,"y":-7.4},{"p":4,"t":"I","m":"C","x":38,"y":-6},{"p":4,"t":"I","m":"C","x":50,"y":-4.6},{"p":4,"t":"I","m":"C","x":70,"y":-3.3},{"p":4,"t":"I","m":"C","x":100,"y":-2.2},{"p":4,"t":"I","m":"C","x":150,"y":-1.2},{"p":4,"t":"I","m":"C","x":200,"y":-0.6},{"p":4,"t":"I","m":"C","x":300,"y":0.1},{"p":4,"t":"I","m":"C","x":500,"y":0.7},{"p":4,"t":"I","m":"C","x":1000,"y":1},
{"p":4,"t":"I","m":"D","x":4.6,"y":-8.8},{"p":4,"t":"I","m":"D","x":5,"y":-9.9},{"p":4,"t":"I","m":"D","x":6,"y":-11.8},{"p":4,"t":"I","m":"D","x":7,"y":-13.2},{"p":4,"t":"I","m":"D","x":8,"y":-14.3},{"p":4,"t":"I","m":"D","x":10,"y":-15.9},{"p":4,"t":"I","m":"D","x":13,"y":-17.4},{"p":4,"t":"I","m":"D","x":17,"y":-18.7},{"p":4,"t":"I","m":"D","x":22,"y":-19.6},{"p":4,"t":"I","m":"D","x":32,"y":-20.4},{"p":4,"t":"I","m":"D","x":50,"y":-20.9},{"p":4,"t":"I","m":"D","x":72,"y":-21.1},{"p":4,"t":"I","m":"D","x":100,"y":-21.1},{"p":4,"t":"I","m":"D","x":1000,"y":-21.1}
]},
"concat":[
{"width":288,"height":277,"title":{"text":"Speed range: 5.8 – 9.2 km/h","font":"Liberation Sans","fontSize":23,"fontWeight":"bold","color":"black","anchor":"start","frame":"group","dx":-4,"offset":2},
 "layer":[
 {"data":{"name":"curves"},"transform":[{"filter":"datum.p==1"}],
  "mark":{"type":"line","stroke":"black","strokeWidth":1.7,"clip":true,"interpolate":"monotone"},
  "encoding":{
   "x":{"field":"x","type":"quantitative","scale":{"type":"log","domain":[1,1000],"nice":false},"axis":{"title":"Theoretical turning radius (m)","format":"d","values":[1,2,3,4,5,6,7,8,9,10,20,30,40,50,60,70,80,90,100,200,300,400,500,600,700,800,900,1000],"labelExpr":"(datum.value==1||datum.value==10||datum.value==100||datum.value==1000)?datum.label:''","tickSize":{"condition":{"test":"datum.value==1||datum.value==10||datum.value==100||datum.value==1000","value":7},"value":-4}}},
   "y":{"field":"y","type":"quantitative","scale":{"domain":[-26,26],"nice":false},"axis":{"title":"Sprocket torque (KN•m)","values":[-26,-19.5,-13,-6.5,0,6.5,13,19.5,26],"labelExpr":"datum.value%13==0?datum.label:''","tickSize":{"condition":{"test":"datum.value%13==0","value":7},"value":4}}},
   "strokeDash":{"field":"m","type":"nominal","scale":{"domain":["A","B","C","D","E"],"range":[[6,4],[11,3,2,3],[11,3,2,2,2,3],[11,3,2,2,2,2,2,3],[1,0]]},"legend":{"title":null,"labelExpr":"{'A':'Normal loads distributed over the entire track','B':'Normal loads supported by the track links under the road wheels','C':'Normal loads concentrated under the road wheels','D':'Steeds\u2019 model under trapezoidal load distribution (K=0)','E':'Measured'}[datum.value]"}},
   "detail":{"field":"t"}}},
 {"data":{"name":"labels"},"transform":[{"filter":"datum.p==1"}],
  "mark":{"type":"text","font":"Liberation Sans","fontSize":23,"fontWeight":"bold","color":"black"},
  "encoding":{"x":{"field":"x","type":"quantitative"},"y":{"field":"y","type":"quantitative"},"text":{"field":"lab"}}}
 ]},
{"width":288,"height":277,"title":{"text":"Speed range: 11.9 – 16.5 km/h","font":"Liberation Sans","fontSize":23,"fontWeight":"bold","color":"black","anchor":"start","frame":"group","dx":-4,"offset":2},
 "layer":[
 {"data":{"name":"curves"},"transform":[{"filter":"datum.p==2"}],
  "mark":{"type":"line","stroke":"black","strokeWidth":1.7,"clip":true,"interpolate":"monotone"},
  "encoding":{
   "x":{"field":"x","type":"quantitative","scale":{"type":"log","domain":[1,1000],"nice":false},"axis":{"title":"Theoretical turning radius (m)","format":"d","values":[1,2,3,4,5,6,7,8,9,10,20,30,40,50,60,70,80,90,100,200,300,400,500,600,700,800,900,1000],"labelExpr":"(datum.value==1||datum.value==10||datum.value==100||datum.value==1000)?datum.label:''","tickSize":{"condition":{"test":"datum.value==1||datum.value==10||datum.value==100||datum.value==1000","value":7},"value":-4}}},
   "y":{"field":"y","type":"quantitative","scale":{"domain":[-26,26],"nice":false},"axis":{"title":"Sprocket torque (KN•m)","values":[-26,-19.5,-13,-6.5,0,6.5,13,19.5,26],"labelExpr":"datum.value%13==0?datum.label:''","tickSize":{"condition":{"test":"datum.value%13==0","value":7},"value":4}}},
   "strokeDash":{"field":"m","type":"nominal","scale":{"domain":["A","B","C","D","E"],"range":[[6,4],[11,3,2,3],[11,3,2,2,2,3],[11,3,2,2,2,2,2,3],[1,0]]},"legend":{"title":null,"labelExpr":"{'A':'Normal loads distributed over the entire track','B':'Normal loads supported by the track links under the road wheels','C':'Normal loads concentrated under the road wheels','D':'Steeds\u2019 model under trapezoidal load distribution (K=0)','E':'Measured'}[datum.value]"}},
   "detail":{"field":"t"}}},
 {"data":{"name":"labels"},"transform":[{"filter":"datum.p==2"}],
  "mark":{"type":"text","font":"Liberation Sans","fontSize":23,"fontWeight":"bold","color":"black"},
  "encoding":{"x":{"field":"x","type":"quantitative"},"y":{"field":"y","type":"quantitative"},"text":{"field":"lab"}}}
 ]},
{"width":288,"height":277,"title":{"text":"Speed range: 18.6 – 24 km/h","font":"Liberation Sans","fontSize":23,"fontWeight":"bold","color":"black","anchor":"start","frame":"group","dx":-4,"offset":2},
 "layer":[
 {"data":{"name":"curves"},"transform":[{"filter":"datum.p==3"}],
  "mark":{"type":"line","stroke":"black","strokeWidth":1.7,"clip":true,"interpolate":"monotone"},
  "encoding":{
   "x":{"field":"x","type":"quantitative","scale":{"type":"log","domain":[1,1000],"nice":false},"axis":{"title":"Theoretical turning radius (m)","format":"d","values":[1,2,3,4,5,6,7,8,9,10,20,30,40,50,60,70,80,90,100,200,300,400,500,600,700,800,900,1000],"labelExpr":"(datum.value==1||datum.value==10||datum.value==100||datum.value==1000)?datum.label:''","tickSize":{"condition":{"test":"datum.value==1||datum.value==10||datum.value==100||datum.value==1000","value":7},"value":-4}}},
   "y":{"field":"y","type":"quantitative","scale":{"domain":[-26,26],"nice":false},"axis":{"title":"Sprocket torque (KN•m)","values":[-26,-19.5,-13,-6.5,0,6.5,13,19.5,26],"labelExpr":"datum.value%13==0?datum.label:''","tickSize":{"condition":{"test":"datum.value%13==0","value":7},"value":4}}},
   "strokeDash":{"field":"m","type":"nominal","scale":{"domain":["A","B","C","D","E"],"range":[[6,4],[11,3,2,3],[11,3,2,2,2,3],[11,3,2,2,2,2,2,3],[1,0]]},"legend":{"title":null,"labelExpr":"{'A':'Normal loads distributed over the entire track','B':'Normal loads supported by the track links under the road wheels','C':'Normal loads concentrated under the road wheels','D':'Steeds\u2019 model under trapezoidal load distribution (K=0)','E':'Measured'}[datum.value]"}},
   "detail":{"field":"t"}}},
 {"data":{"name":"labels"},"transform":[{"filter":"datum.p==3"}],
  "mark":{"type":"text","font":"Liberation Sans","fontSize":23,"fontWeight":"bold","color":"black"},
  "encoding":{"x":{"field":"x","type":"quantitative"},"y":{"field":"y","type":"quantitative"},"text":{"field":"lab"}}}
 ]},
{"width":288,"height":277,"title":{"text":"Speed range: 25.8 – 32.2 km/h","font":"Liberation Sans","fontSize":23,"fontWeight":"bold","color":"black","anchor":"start","frame":"group","dx":-4,"offset":2},
 "layer":[
 {"data":{"name":"curves"},"transform":[{"filter":"datum.p==4"}],
  "mark":{"type":"line","stroke":"black","strokeWidth":1.7,"clip":true,"interpolate":"monotone"},
  "encoding":{
   "x":{"field":"x","type":"quantitative","scale":{"type":"log","domain":[1,1000],"nice":false},"axis":{"title":"Theoretical turning radius (m)","format":"d","values":[1,2,3,4,5,6,7,8,9,10,20,30,40,50,60,70,80,90,100,200,300,400,500,600,700,800,900,1000],"labelExpr":"(datum.value==1||datum.value==10||datum.value==100||datum.value==1000)?datum.label:''","tickSize":{"condition":{"test":"datum.value==1||datum.value==10||datum.value==100||datum.value==1000","value":7},"value":-4}}},
   "y":{"field":"y","type":"quantitative","scale":{"domain":[-26,26],"nice":false},"axis":{"title":"Sprocket torque (KN•m)","values":[-26,-19.5,-13,-6.5,0,6.5,13,19.5,26],"labelExpr":"datum.value%13==0?datum.label:''","tickSize":{"condition":{"test":"datum.value%13==0","value":7},"value":4}}},
   "strokeDash":{"field":"m","type":"nominal","scale":{"domain":["A","B","C","D","E"],"range":[[6,4],[11,3,2,3],[11,3,2,2,2,3],[11,3,2,2,2,2,2,3],[1,0]]},"legend":{"title":null,"labelExpr":"{'A':'Normal loads distributed over the entire track','B':'Normal loads supported by the track links under the road wheels','C':'Normal loads concentrated under the road wheels','D':'Steeds\u2019 model under trapezoidal load distribution (K=0)','E':'Measured'}[datum.value]"}},
   "detail":{"field":"t"}}},
 {"data":{"name":"labels"},"transform":[{"filter":"datum.p==4"}],
  "mark":{"type":"text","font":"Liberation Sans","fontSize":23,"fontWeight":"bold","color":"black"},
  "encoding":{"x":{"field":"x","type":"quantitative"},"y":{"field":"y","type":"quantitative"},"text":{"field":"lab"}}}
 ]}
]
}
